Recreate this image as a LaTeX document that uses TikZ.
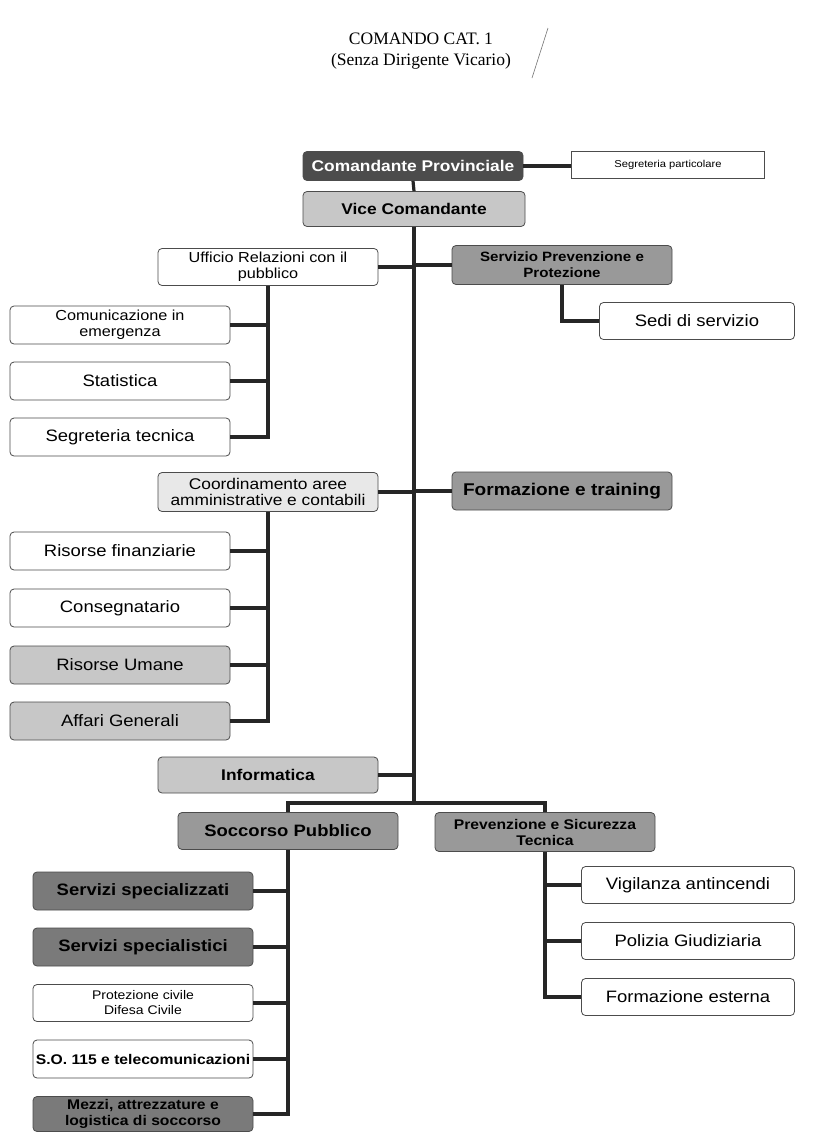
\documentclass[tikz,border=0pt]{standalone}
\usepackage{fontspec}
\setmainfont{Liberation Sans}[FakeStretch=1.12]
\newfontfamily\titlefont{Liberation Serif}
\usetikzlibrary{positioning, calc}

\begin{document}
\begin{tikzpicture}[x=1pt, y=-1pt,
        unit/.style={rectangle, rounded corners=4pt, draw=black!70, line width=0.8pt, fill=white, minimum width=220pt, minimum height=38pt, align=center, inner sep=2pt},
        bigtxt/.style={font=\fontsize{16.5}{18}\selectfont},
        bigbold/.style={font=\fontsize{15.5}{18}\selectfont\bfseries},
        smalltxt/.style={font=\fontsize{14.5}{16}\selectfont},
        smallbold/.style={font=\fontsize{14}{16}\selectfont\bfseries},
        darkbox/.style={fill=black!70, text=white},
        deepbox/.style={fill=black!52},
        midbox/.style={fill=black!40},
        lightbox/.style={fill=black!22},
        paperbox/.style={fill=black!9},
        conn/.style={line width=3.2pt, draw=black!85}
    ]
        \useasboundingbox[fill=white] (0,0) rectangle (816,1133);

        % Title
        \node[font=\titlefont\fontsize{17.5}{21}\selectfont, align=center] (title) at (421,51) {COMANDO CAT. 1\\(Senza Dirigente Vicario)};
        \draw[black!55, line width=0.6pt] (548,28) -- (532,78);

        % Top of the chart
        \node[unit, darkbox, bigbold, minimum height=29pt] (comandante) at (413,166) {Comandante Provinciale};
        \node[unit, rounded corners=0pt, minimum width=193pt, minimum height=27pt, font=\fontsize{10}{11}\selectfont] (segpart) at (668,165) {Segreteria particolare};
        \node[unit, lightbox, bigbold, minimum width=222pt, minimum height=35pt] (vice) at (414,209) {Vice Comandante};

        % First branch
        \node[unit, smalltxt, minimum height=37pt] (ufficio) at (268,267) {Ufficio Relazioni con il\\pubblico};
        \node[unit, midbox, smallbold, font=\fontsize{13.5}{16}\selectfont\bfseries, minimum height=39pt] (spp) at (562,265) {Servizio Prevenzione e\\Protezione};
        \node[unit, bigtxt, minimum width=195pt, minimum height=37pt] (sedi) at (697,321) {Sedi di servizio};
        \node[unit, smalltxt] (comunic) at (120,325) {Comunicazione in\\emergenza};
        \node[unit, bigtxt] (statist) at (120,381) {Statistica};
        \node[unit, bigtxt] (segtec) at (120,437) {Segreteria tecnica};

        % Second branch
        \node[unit, paperbox, font=\fontsize{15.5}{16.5}\selectfont, inner sep=1pt, minimum height=39pt] (coord) at (268,492) {Coordinamento aree\\amministrative e contabili};
        \node[unit, midbox, font=\fontsize{17}{19}\selectfont\bfseries] (formaz) at (562,491) {Formazione e training};
        \node[unit, bigtxt] (risfin) at (120,551) {Risorse finanziarie};
        \node[unit, bigtxt] (consegn) at (120,608) {Consegnatario};
        \node[unit, lightbox, bigtxt] (risum) at (120,665) {Risorse Umane};
        \node[unit, lightbox, bigtxt] (affari) at (120,721) {Affari Generali};
        \node[unit, lightbox, bigbold, minimum height=36pt] (informatica) at (268,775) {Informatica};

        % Lower branches
        \node[unit, midbox, bigbold, font=\fontsize{16.5}{18}\selectfont\bfseries, minimum height=37pt] (soccorso) at (288,831) {Soccorso Pubblico};
        \node[unit, midbox, smallbold, minimum height=39pt] (prevsic) at (545,832) {Prevenzione e Sicurezza\\Tecnica};
        \node[unit, deepbox, bigbold, font=\fontsize{16.5}{18}\selectfont\bfseries] (servspz) at (143,891) {Servizi specializzati};
        \node[unit, deepbox, bigbold, font=\fontsize{16.5}{18}\selectfont\bfseries] (servsps) at (143,947) {Servizi specialistici};
        \node[unit, font=\fontsize{12.5}{15}\selectfont, minimum height=37pt] (protciv) at (143,1003) {Protezione civile\\Difesa Civile};
        \node[unit, smallbold, inner sep=1pt] (so115) at (143,1059) {S.O. 115 e telecomunicazioni};
        \node[unit, deepbox, smallbold, minimum height=35pt] (mezzi) at (143,1114) {Mezzi, attrezzature e\\logistica di soccorso};
        \node[unit, bigtxt, minimum width=213pt, minimum height=37pt] (vigil) at (688,885) {Vigilanza antincendi};
        \node[unit, bigtxt, minimum width=213pt, minimum height=37pt] (polizia) at (688,941) {Polizia Giudiziaria};
        \node[unit, bigtxt, minimum width=213pt, minimum height=37pt] (formest) at (688,997) {Formazione esterna};

        \coordinate (split) at (vice.south |- 0,803);

        % Trunk
        \draw[conn] (comandante.south) -- (vice.north);
        \draw[conn] (comandante.east) -- (comandante.east -| segpart.west);
        \draw[conn] (vice.south) -- (split);
        \draw[conn] (ufficio.east) -- (ufficio.east -| vice.south);
        \draw[conn] (spp.west) -- (spp.west -| vice.south);
        \draw[conn] (coord.east) -- (coord.east -| vice.south);
        \draw[conn] (formaz.west) -- (formaz.west -| vice.south);
        \draw[conn] (informatica.east) -- (informatica.east -| vice.south);
        \draw[conn] (soccorso.north) |- (split) -| (prevsic.north);

        % Children
        \draw[conn] (spp.south) |- (sedi.west);
        \draw[conn] (ufficio.south) |- (segtec.east);
        \foreach \kid in {comunic, statist}
            \draw[conn] (\kid.east) -- (\kid.east -| ufficio.south);
        \draw[conn] (coord.south) |- (affari.east);
        \foreach \kid in {risfin, consegn, risum}
            \draw[conn] (\kid.east) -- (\kid.east -| coord.south);
        \draw[conn] (soccorso.south) |- (mezzi.east);
        \foreach \kid in {servspz, servsps, protciv, so115}
            \draw[conn] (\kid.east) -- (\kid.east -| soccorso.south);
        \draw[conn] (prevsic.south) |- (formest.west);
        \foreach \kid in {vigil, polizia}
            \draw[conn] (\kid.west) -- (\kid.west -| prevsic.south);
    \end{tikzpicture}
\end{document}
